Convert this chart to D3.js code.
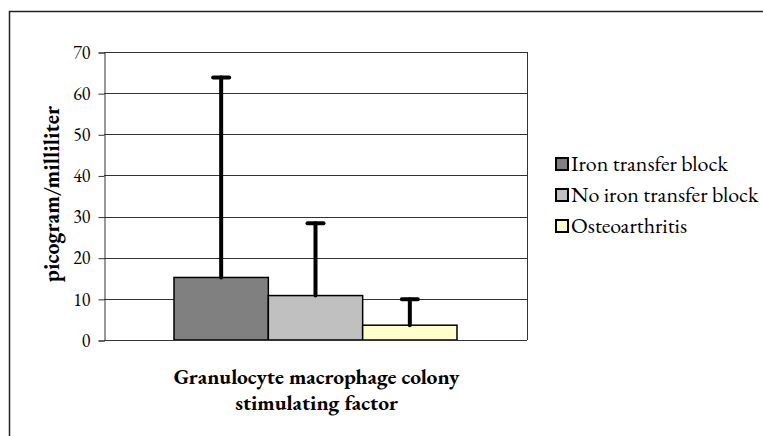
<!DOCTYPE html>
<html>
<head>
<meta charset="utf-8">
<script src="https://cdn.jsdelivr.net/npm/d3@7"></script>
<style>
  body { margin: 0; background: #fff; }
</style>
</head>
<body>
<svg id="chart" width="763" height="436"></svg>
<script>
// bar chart with upward error bars
const category = ["Granulocyte macrophage colony", "stimulating factor"];
const series = ["Iron transfer block", "No iron transfer block", "Osteoarthritis"];
const values = [15.2, 10.8, 3.6];
const errorTops = [63.8, 28.4, 9.9];
const colors = ["#808080", "#c0c0c0", "#ffffcc"];
const yTicks = [0, 10, 20, 30, 40, 50, 60, 70];

const FONT = "'EB Garamond', 'Liberation Serif', serif";
const svg = d3.select("#chart");
const m = { left: 104, right: 527, top: 52, bottom: 340 };

function styleText(sel, size, bold) {
  sel.style("font-family", FONT)
    .style("font-size", size + "px")
    .style("font-weight", bold ? "bold" : "normal")
    .style("font-variant-numeric", "lining-nums")
    .style("fill", "#000");
}

// outer frame (only top and left edges show in the crop)
svg.append("rect")
  .attr("x", 9.5).attr("y", 11.5)
  .attr("width", 800).attr("height", 500)
  .attr("fill", "none").attr("stroke", "#222").attr("stroke-width", 1.5);

const y = d3.scaleLinear().domain([0, 70]).range([m.bottom, m.top]);
const x = d3.scaleBand().domain(series).range([174, 457]).paddingInner(0);

// gridlines
svg.append("g")
  .selectAll("line")
  .data(yTicks.filter(d => d > 0))
  .enter().append("line")
  .attr("x1", m.left).attr("x2", m.right)
  .attr("y1", d => Math.round(y(d)) + 0.5).attr("y2", d => Math.round(y(d)) + 0.5)
  .attr("stroke", "#333").attr("stroke-width", 1);

// right edge of plot
svg.append("line")
  .attr("x1", m.right + 0.5).attr("x2", m.right + 0.5)
  .attr("y1", m.top).attr("y2", m.bottom)
  .attr("stroke", "#333");

// y axis
const yAxis = d3.axisLeft(y).tickValues(yTicks).tickSize(6).tickPadding(8);
const ga = svg.append("g").attr("transform", `translate(${m.left + 0.5},0.5)`).call(yAxis);
ga.select(".domain").attr("stroke", "#333");
ga.selectAll(".tick line").attr("stroke", "#333");
ga.selectAll(".tick text").call(styleText, 18, false);

// bars
svg.append("g")
  .selectAll("rect")
  .data(series)
  .enter().append("rect")
  .attr("x", d => x(d))
  .attr("y", (d, i) => y(values[i]))
  .attr("width", x.bandwidth())
  .attr("height", (d, i) => y(0) - y(values[i]))
  .attr("fill", (d, i) => colors[i])
  .attr("stroke", "#000").attr("stroke-width", 1.5);

// x baseline
svg.append("line")
  .attr("x1", m.left).attr("x2", m.right)
  .attr("y1", m.bottom + 0.5).attr("y2", m.bottom + 0.5)
  .attr("stroke", "#333").attr("stroke-width", 1.2);

// error bars
const eb = svg.append("g").attr("stroke", "#000").attr("stroke-linecap", "round");
series.forEach((s, i) => {
  const cx = x(s) + x.bandwidth() / 2;
  eb.append("line")
    .attr("x1", cx).attr("x2", cx)
    .attr("y1", y(values[i])).attr("y2", y(errorTops[i]))
    .attr("stroke-width", 4);
  eb.append("line")
    .attr("x1", cx - 8).attr("x2", cx + 8)
    .attr("y1", y(errorTops[i])).attr("y2", y(errorTops[i]))
    .attr("stroke-width", 4);
});

// y label
svg.append("text")
  .attr("transform", `translate(51,194) rotate(-90)`)
  .attr("text-anchor", "middle").attr("dominant-baseline", "central")
  .call(styleText, 22, true)
  .text("picogram/milliliter");

// category label
svg.append("g")
  .selectAll("text")
  .data(category)
  .enter().append("text")
  .attr("x", (m.left + m.right) / 2 + 1)
  .attr("y", (d, i) => 384 + i * 26)
  .attr("text-anchor", "middle")
  .call(styleText, 21.5, true)
  .text(d => d);

// legend
const lg = svg.append("g");
series.forEach((s, i) => {
  const cy = 164 + i * 31;
  lg.append("rect")
    .attr("x", 556).attr("y", cy - 6)
    .attr("width", 12).attr("height", 12)
    .attr("fill", colors[i]).attr("stroke", "#000").attr("stroke-width", 2);
  lg.append("text")
    .attr("x", 571).attr("y", cy + 6.5)
    .call(styleText, 22, false)
    .text(s);
});
</script>
</body>
</html>
